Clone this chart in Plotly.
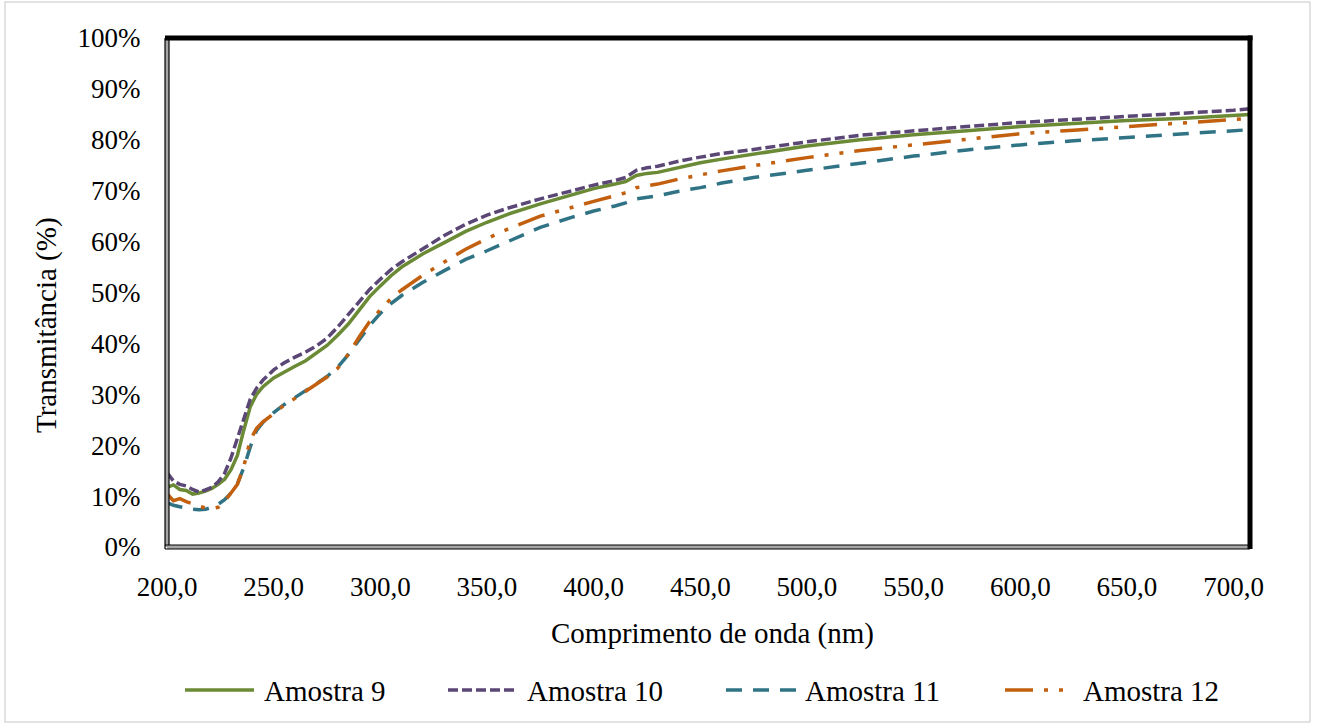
import plotly.graph_objects as go

# Wavelength grid (nm)
wavelength = [200, 203, 206, 209, 212, 215, 218, 221, 224, 227, 230, 233, 236, 239,
              242, 245, 250, 255, 260, 265, 270, 275, 280, 285, 290, 295, 300, 305,
              310, 320, 330, 340, 350, 360, 375, 390, 400, 410, 415, 420, 425, 430,
              440, 450, 460, 475, 500, 525, 550, 575, 600, 625, 650, 675, 700, 708]

# Transmittance (%) per sample
amostra_9 = [11.7, 12.2, 11.3, 11.1, 10.4, 10.6, 11.0, 11.5, 12.3, 13.3, 15.2, 18.0, 23.0, 27.5,
             30.0, 31.5, 33.2, 34.4, 35.5, 36.6, 38.0, 39.6, 41.6, 43.8, 46.5, 49.2, 51.3, 53.3,
             55.0, 57.6, 59.8, 62.0, 63.8, 65.4, 67.4, 69.2, 70.4, 71.3, 71.8, 73.0, 73.4, 73.6,
             74.6, 75.5, 76.2, 77.2, 78.8, 80.0, 81.0, 81.8, 82.6, 83.2, 83.8, 84.2, 84.8, 85.0]

amostra_10 = [14.6, 13.0, 12.3, 12.0, 11.3, 10.8, 11.2, 11.7, 12.8, 14.5, 17.5, 21.5, 25.5, 29.0,
              31.2, 32.8, 34.8, 36.2, 37.3, 38.3, 39.5, 41.0, 43.2, 45.6, 48.2, 50.6, 52.6, 54.5,
              56.0, 58.7, 61.2, 63.4, 65.2, 66.6, 68.4, 70.0, 71.1, 72.0, 72.6, 74.0, 74.5, 74.8,
              75.8, 76.6, 77.3, 78.1, 79.6, 80.9, 81.8, 82.6, 83.4, 84.0, 84.6, 85.1, 85.8, 86.1]

amostra_11 = [8.7, 8.2, 7.9, 7.6, 7.4, 7.3, 7.4, 7.8, 8.4, 9.3, 10.6, 12.4, 15.6, 19.6,
              22.9, 24.5, 26.4, 28.0, 29.3, 30.7, 32.1, 33.5, 35.3, 37.8, 40.6, 43.5, 45.9, 47.8,
              49.4, 52.0, 54.3, 56.5, 58.2, 60.0, 62.8, 64.8, 66.0, 67.0, 67.6, 68.4, 68.7, 69.0,
              69.9, 70.6, 71.5, 72.6, 74.0, 75.4, 76.8, 78.0, 79.0, 79.8, 80.5, 81.2, 81.8, 82.0]

amostra_12 = [10.5, 9.1, 9.5, 8.9, 8.5, 8.0, 7.7, 7.5, 7.8, 9.0, 10.6, 12.3, 15.8, 21.0,
              23.3, 24.6, 26.2, 27.9, 29.2, 30.6, 32.0, 33.4, 35.1, 37.9, 41.2, 44.3, 46.6, 48.8,
              50.5, 53.4, 56.0, 58.5, 60.6, 62.5, 65.0, 66.8, 67.9, 69.0, 69.6, 70.6, 71.0, 71.3,
              72.3, 73.1, 73.9, 74.9, 76.5, 77.9, 79.0, 80.2, 81.2, 81.9, 82.6, 83.2, 83.9, 84.2]

series_names = ["Amostra 9", "Amostra 10", "Amostra 11", "Amostra 12"]
series_values = [amostra_9, amostra_10, amostra_11, amostra_12]

x_ticks = [200, 250, 300, 350, 400, 450, 500, 550, 600, 650, 700]
y_ticks = [0, 10, 20, 30, 40, 50, 60, 70, 80, 90, 100]
y_tick_labels = [f"{v}%" for v in y_ticks]

# Styling
colors = ["#6B8A35", "#5B4775", "#2F7385", "#C2600F"]
dashes = ["solid", "10px,4px", "16px,11px", "28px,11px,4px,11px,4px,11px"]
LW = 3.5
FONT = "Liberation Serif"
FS = 27
FS_TEXT = 29

W, H = 1317, 726
PL, PR, PT, PB = 167, 1250, 38, 547  # plot area in pixels
pw, ph = PR - PL, PB - PT


def px(x):
    return (x - PL) / pw


def py(y):
    return (PB - y) / ph


fig = go.Figure()
for name, vals, c, d in zip(series_names, series_values, colors, dashes):
    fig.add_trace(go.Scatter(
        x=wavelength, y=vals, name=name, mode="lines",
        line=dict(color=c, width=LW, dash=d),
        showlegend=False,
    ))

shapes = []
# outer chart border
shapes.append(dict(type="rect", xref="paper", yref="paper",
                   x0=px(5), x1=px(1310), y0=py(722), y1=py(2),
                   line=dict(color="#D9D9D9", width=1.5), layer="below"))
# plot frame: thick top/right, double line left/bottom
shapes.append(dict(type="line", xref="paper", yref="paper", x0=0, x1=0, y0=0, y1=1,
                   line=dict(color="#A6A6A6", width=4), layer="above"))
for off in (-2, 2):
    shapes.append(dict(type="line", xref="paper", yref="paper",
                       x0=px(PL + off), x1=px(PL + off), y0=py(PB + 2), y1=1,
                       line=dict(color="black", width=1.2), layer="above"))
shapes.append(dict(type="line", xref="paper", yref="paper", x0=0, x1=1, y0=0, y1=0,
                   line=dict(color="#A6A6A6", width=4), layer="above"))
for off in (-2, 2):
    shapes.append(dict(type="line", xref="paper", yref="paper",
                       x0=px(PL - 2), x1=1, y0=py(PB + off), y1=py(PB + off),
                       line=dict(color="black", width=1.2), layer="above"))
shapes.append(dict(type="line", xref="paper", yref="paper", x0=px(PL - 2), x1=px(PR + 2.5), y0=1, y1=1,
                   line=dict(color="black", width=5), layer="above"))
shapes.append(dict(type="line", xref="paper", yref="paper", x0=1, x1=1, y0=py(PB + 2), y1=py(PT - 2.5),
                   line=dict(color="black", width=5), layer="above"))

annotations = [
    dict(text="Transmitância (%)", xref="paper", yref="paper", x=px(46), y=py(325),
         xanchor="center", yanchor="middle",
         showarrow=False, textangle=-90, font=dict(family=FONT, size=FS_TEXT, color="black")),
    dict(text="Comprimento de onda (nm)", xref="paper", yref="paper", x=px(712), y=py(633),
         xanchor="center", yanchor="middle",
         showarrow=False, font=dict(family=FONT, size=FS_TEXT, color="black")),
]

# legend drawn as line samples plus labels
legend_y = 690
legend_items = [(185, 254, 262), (448, 518, 525), (726, 797, 803), (1005, 1072, 1081)]
for (x0, x1, xt), name, c, d in zip(legend_items, series_names, colors, dashes):
    shapes.append(dict(type="line", xref="paper", yref="paper",
                       x0=px(x0), x1=px(x1), y0=py(legend_y), y1=py(legend_y),
                       line=dict(color=c, width=LW, dash=d)))
    annotations.append(dict(text=name, xref="paper", yref="paper", x=px(xt), y=py(legend_y + 1),
                            xanchor="left", yanchor="middle", showarrow=False,
                            font=dict(family=FONT, size=FS_TEXT, color="black")))

fig.update_layout(
    width=W, height=H,
    margin=dict(l=PL, r=W - PR, t=PT, b=H - PB, pad=0),
    paper_bgcolor="white", plot_bgcolor="white",
    separators=", ",
    font=dict(family=FONT, size=FS, color="black"),
    xaxis=dict(range=[200, 707.7], tickvals=x_ticks, tickformat=".1f",
               showgrid=False, zeroline=False, showline=False,
               ticks="outside", ticklen=16, tickcolor="rgba(0,0,0,0)",
               tickfont=dict(family=FONT, size=FS, color="black")),
    yaxis=dict(range=[0, 100], tickvals=y_ticks, ticktext=y_tick_labels,
               showgrid=False, zeroline=False, showline=False,
               ticks="outside", ticklen=20, tickcolor="rgba(0,0,0,0)",
               tickfont=dict(family=FONT, size=FS, color="black")),
    shapes=shapes,
    annotations=annotations,
)

fig.write_html("out.html")
